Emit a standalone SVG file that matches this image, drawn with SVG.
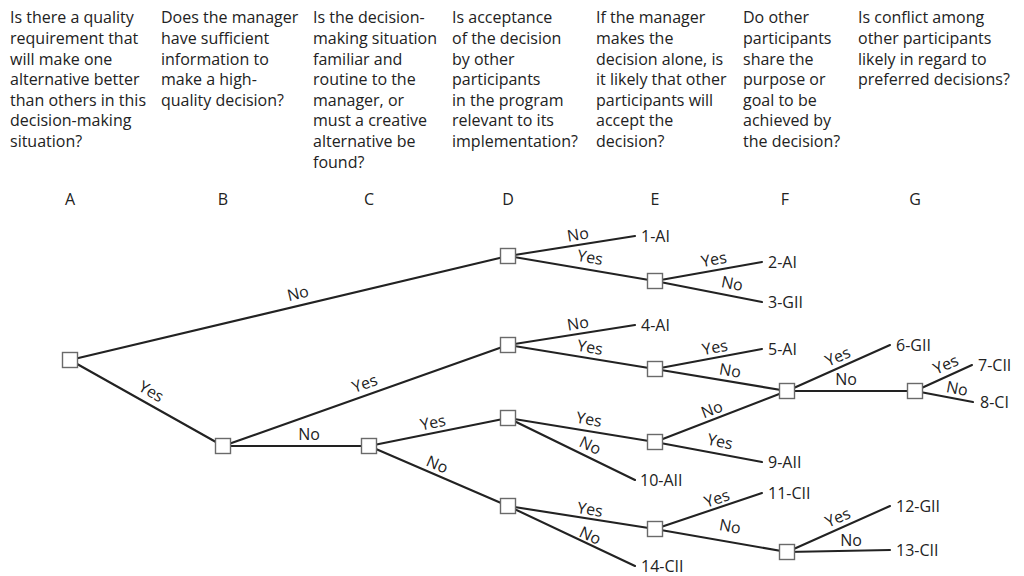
<svg xmlns="http://www.w3.org/2000/svg" width="1024" height="576" viewBox="0 0 1024 576">
  <style>
    text { font-family: "Open Sans", "Liberation Sans", sans-serif; fill: #222222; }
    .q { font-size: 16px; }
    .col { font-size: 16px; text-anchor: middle; }
    .leaf { font-size: 16px; }
    .lbl { font-size: 16px; text-anchor: middle; }
    .edge { stroke: #222222; stroke-width: 2.1; fill: none; stroke-linecap: round; }
    .node { fill: #ffffff; stroke: #6a6a6a; stroke-width: 1.4; }
  </style>

  <!-- Questions heading each decision column -->
  <g id="questions" class="q">
    <text x="10" y="23.3">Is there a quality</text>
    <text x="10" y="43.9">requirement that</text>
    <text x="10" y="64.5">will make one</text>
    <text x="10" y="85.1">alternative better</text>
    <text x="10" y="105.7">than others in this</text>
    <text x="10" y="126.3">decision-making</text>
    <text x="10" y="146.9">situation?</text>

    <text x="161" y="23.3">Does the manager</text>
    <text x="161" y="43.9">have sufficient</text>
    <text x="161" y="64.5">information to</text>
    <text x="161" y="85.1">make a high-</text>
    <text x="161" y="105.7">quality decision?</text>

    <text x="313" y="23.3">Is the decision-</text>
    <text x="313" y="43.9">making situation</text>
    <text x="313" y="64.5">familiar and</text>
    <text x="313" y="85.1">routine to the</text>
    <text x="313" y="105.7">manager, or</text>
    <text x="313" y="126.3">must a creative</text>
    <text x="313" y="146.9">alternative be</text>
    <text x="313" y="167.5">found?</text>

    <text x="452" y="23.3">Is acceptance</text>
    <text x="452" y="43.9">of the decision</text>
    <text x="452" y="64.5">by other</text>
    <text x="452" y="85.1">participants</text>
    <text x="452" y="105.7">in the program</text>
    <text x="452" y="126.3">relevant to its</text>
    <text x="452" y="146.9">implementation?</text>

    <text x="596" y="23.3">If the manager</text>
    <text x="596" y="43.9">makes the</text>
    <text x="596" y="64.5">decision alone, is</text>
    <text x="596" y="85.1">it likely that other</text>
    <text x="596" y="105.7">participants will</text>
    <text x="596" y="126.3">accept the</text>
    <text x="596" y="146.9">decision?</text>

    <text x="743" y="23.3">Do other</text>
    <text x="743" y="43.9">participants</text>
    <text x="743" y="64.5">share the</text>
    <text x="743" y="85.1">purpose or</text>
    <text x="743" y="105.7">goal to be</text>
    <text x="743" y="126.3">achieved by</text>
    <text x="743" y="146.9">the decision?</text>

    <text x="858" y="23.3">Is conflict among</text>
    <text x="858" y="43.9">other participants</text>
    <text x="858" y="64.5">likely in regard to</text>
    <text x="858" y="85.1">preferred decisions?</text>
  </g>

  <!-- Column letters -->
  <g id="columns" class="col">
    <text x="70" y="205">A</text>
    <text x="223" y="205">B</text>
    <text x="369" y="205">C</text>
    <text x="508" y="205">D</text>
    <text x="655" y="205">E</text>
    <text x="785" y="205">F</text>
    <text x="915" y="205">G</text>
  </g>

  <!-- Branches of the tree -->
  <g id="connectors" class="edge">
    <line x1="70" y1="360" x2="508" y2="256"/>
    <line x1="70" y1="360" x2="223" y2="446"/>
    <line x1="223" y1="446" x2="508" y2="345"/>
    <line x1="223" y1="446" x2="369" y2="446"/>
    <line x1="369" y1="446" x2="508" y2="418"/>
    <line x1="369" y1="446" x2="508" y2="506"/>

    <line x1="508" y1="256" x2="635" y2="236"/>
    <line x1="508" y1="256" x2="655" y2="281"/>
    <line x1="655" y1="281" x2="762" y2="262"/>
    <line x1="655" y1="281" x2="762" y2="302"/>

    <line x1="508" y1="345" x2="635" y2="325"/>
    <line x1="508" y1="345" x2="655" y2="369"/>
    <line x1="655" y1="369" x2="762" y2="349"/>
    <line x1="655" y1="369" x2="787" y2="391"/>
    <line x1="787" y1="391" x2="890" y2="345"/>
    <line x1="787" y1="391" x2="915" y2="391"/>
    <line x1="915" y1="391" x2="972" y2="365"/>
    <line x1="915" y1="391" x2="973" y2="402"/>

    <line x1="508" y1="418" x2="655" y2="442"/>
    <line x1="508" y1="418" x2="635" y2="480"/>
    <line x1="655" y1="442" x2="787" y2="391"/>
    <line x1="655" y1="442" x2="762" y2="462"/>

    <line x1="508" y1="506" x2="655" y2="529"/>
    <line x1="508" y1="506" x2="635" y2="566"/>
    <line x1="655" y1="529" x2="762" y2="493"/>
    <line x1="655" y1="529" x2="787" y2="552"/>
    <line x1="787" y1="552" x2="890" y2="506"/>
    <line x1="787" y1="552" x2="890" y2="550"/>
  </g>

  <!-- Yes / No labels along the branches -->
  <g id="branch-labels" class="lbl">
    <text transform="translate(298 294) rotate(-13.4)" y="5">No</text>
    <text transform="translate(151 392) rotate(29.3)" y="5">Yes</text>
    <text transform="translate(365 384) rotate(-19.5)" y="5">Yes</text>
    <text transform="translate(309 435)" y="5">No</text>
    <text transform="translate(433 423) rotate(-11.4)" y="5">Yes</text>
    <text transform="translate(437 465) rotate(23.3)" y="5">No</text>

    <text transform="translate(578 235) rotate(-9)" y="5">No</text>
    <text transform="translate(590 258) rotate(9.7)" y="5">Yes</text>
    <text transform="translate(714 260) rotate(-10.3)" y="5">Yes</text>
    <text transform="translate(732 284) rotate(10.8)" y="5">No</text>

    <text transform="translate(578 324) rotate(-9)" y="5">No</text>
    <text transform="translate(590 348) rotate(9.3)" y="5">Yes</text>
    <text transform="translate(715 348) rotate(-10.6)" y="5">Yes</text>
    <text transform="translate(730 371) rotate(9.5)" y="5">No</text>
    <text transform="translate(838 357) rotate(-24)" y="5">Yes</text>
    <text transform="translate(846 380)" y="5">No</text>
    <text transform="translate(946 365) rotate(-23.7)" y="5">Yes</text>
    <text transform="translate(957 389) rotate(10.7)" y="5">No</text>

    <text transform="translate(589 420) rotate(9.3)" y="5">Yes</text>
    <text transform="translate(590 446) rotate(26)" y="5">No</text>
    <text transform="translate(712 410) rotate(-21.1)" y="5">No</text>
    <text transform="translate(720 442) rotate(11.1)" y="5">Yes</text>

    <text transform="translate(590 510) rotate(9.1)" y="5">Yes</text>
    <text transform="translate(590 536) rotate(25.3)" y="5">No</text>
    <text transform="translate(717 499) rotate(-18.4)" y="5">Yes</text>
    <text transform="translate(730 527) rotate(9.7)" y="5">No</text>
    <text transform="translate(838 518) rotate(-23.8)" y="5">Yes</text>
    <text transform="translate(851 541)" y="5">No</text>
  </g>

  <!-- Outcome labels at branch ends -->
  <g id="outcomes" class="leaf">
    <text x="641" y="241.5">1-AI</text>
    <text x="768" y="267.5">2-AI</text>
    <text x="768" y="307.5">3-GII</text>
    <text x="641" y="330.5">4-AI</text>
    <text x="768" y="354.5">5-AI</text>
    <text x="896" y="350.5">6-GII</text>
    <text x="978" y="370.5">7-CII</text>
    <text x="980" y="407.5">8-CI</text>
    <text x="768" y="468">9-AII</text>
    <text x="640" y="485.5">10-AII</text>
    <text x="768" y="498.5">11-CII</text>
    <text x="896" y="511.5">12-GII</text>
    <text x="896" y="555.5">13-CII</text>
    <text x="641" y="572">14-CII</text>
  </g>

  <!-- Decision points -->
  <g id="node-A"><rect class="node" x="62.5" y="352.5" width="15" height="15"/></g>
  <g id="node-B"><rect class="node" x="215.5" y="438.5" width="15" height="15"/></g>
  <g id="node-C"><rect class="node" x="361.5" y="438.5" width="15" height="15"/></g>
  <g id="node-D1"><rect class="node" x="500.5" y="248.5" width="15" height="15"/></g>
  <g id="node-D2"><rect class="node" x="500.5" y="337.5" width="15" height="15"/></g>
  <g id="node-D3"><rect class="node" x="500.5" y="410.5" width="15" height="15"/></g>
  <g id="node-D4"><rect class="node" x="500.5" y="498.5" width="15" height="15"/></g>
  <g id="node-E1"><rect class="node" x="647.5" y="273.5" width="15" height="15"/></g>
  <g id="node-E2"><rect class="node" x="647.5" y="361.5" width="15" height="15"/></g>
  <g id="node-E3"><rect class="node" x="647.5" y="434.5" width="15" height="15"/></g>
  <g id="node-E4"><rect class="node" x="647.5" y="521.5" width="15" height="15"/></g>
  <g id="node-F1"><rect class="node" x="779.5" y="383.5" width="15" height="15"/></g>
  <g id="node-F2"><rect class="node" x="779.5" y="544.5" width="15" height="15"/></g>
  <g id="node-G"><rect class="node" x="907.5" y="383.5" width="15" height="15"/></g>
</svg>
